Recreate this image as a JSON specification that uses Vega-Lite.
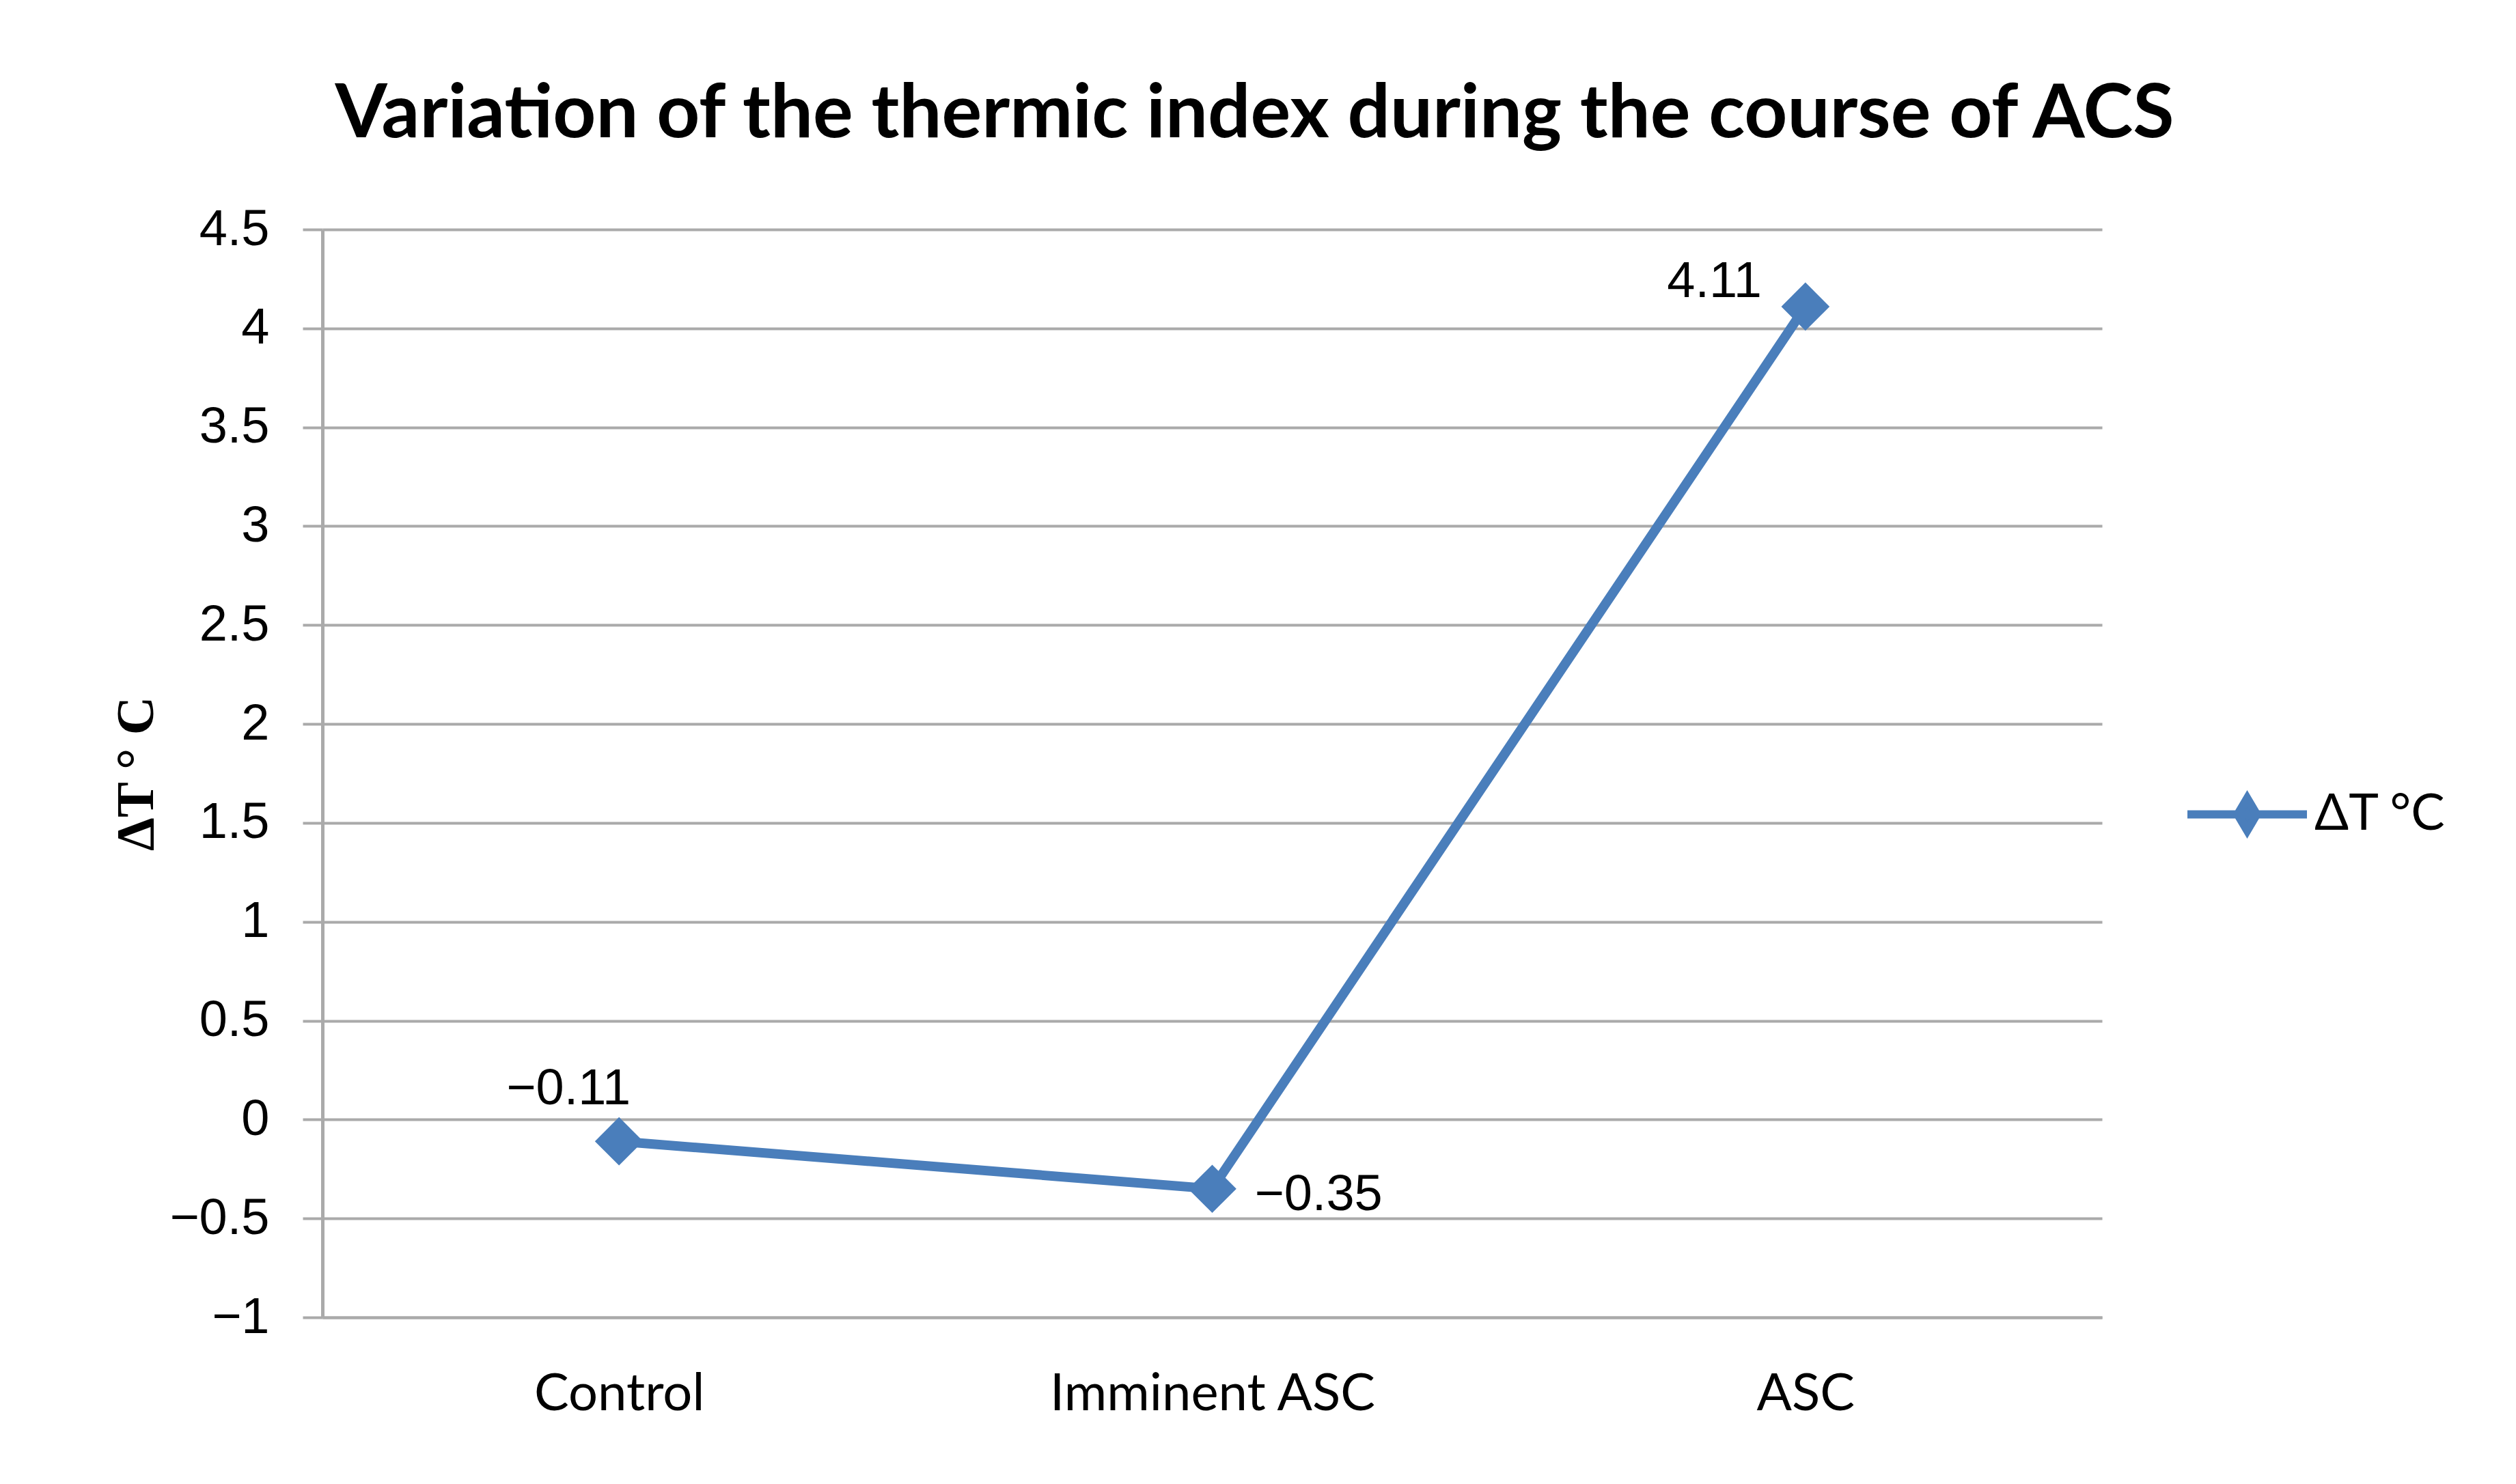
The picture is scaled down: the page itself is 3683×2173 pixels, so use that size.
{
  "$schema": "https://vega.github.io/schema/vega-lite/v6.json",
  "width": 2605,
  "height": 1593,
  "autosize": {"type": "none"},
  "padding": {"left": 472, "top": 336, "right": 606, "bottom": 244},
  "background": "white",
  "config": {"view": {"stroke": null}},
  "title": {
    "text": "Variation of the thermic index during the course of ACS",
    "font": "Lato",
    "fontWeight": "bold",
    "fontSize": 110,
    "color": "black",
    "anchor": "middle",
    "frame": "group",
    "dx": 62,
    "baseline": "alphabetic",
    "offset": -12,
    "limit": 4000
  },
  "data": {
    "values": [
      {"stage": "Control", "dT": -0.11},
      {"stage": "Imminent ASC", "dT": -0.35},
      {"stage": "ASC", "dT": 4.11}
    ]
  },
  "encoding": {
    "x": {
      "field": "stage",
      "type": "nominal",
      "sort": null,
      "scale": {"type": "point", "padding": 0.5},
      "axis": {
        "title": null,
        "labelFont": "Lato",
        "labelFontSize": 76,
        "labelColor": "black",
        "labelAngle": 0,
        "labelPadding": 75,
        "labelLimit": 2000,
        "ticks": false,
        "tickSize": 0,
        "domainColor": "#aaaaaa",
        "domainWidth": 4,
        "grid": false
      }
    },
    "y": {
      "field": "dT",
      "type": "quantitative",
      "scale": {"domain": [-1, 4.5], "nice": false, "zero": false},
      "axis": {
        "title": "ΔT ° C",
        "titleFont": "Liberation Serif",
        "titleFontWeight": "bold",
        "titleFontSize": 78,
        "titleColor": "black",
        "titlePadding": 33,
        "values": [-1, -0.5, 0, 0.5, 1, 1.5, 2, 2.5, 3, 3.5, 4, 4.5],
        "format": "~g",
        "labelFont": "Liberation Sans",
        "labelFontSize": 74,
        "labelColor": "black",
        "labelPadding": 49,
        "tickSize": 29,
        "tickColor": "#aaaaaa",
        "tickWidth": 4,
        "domainColor": "#aaaaaa",
        "domainWidth": 5,
        "grid": true,
        "gridColor": "#aaaaaa",
        "gridWidth": 4
      }
    }
  },
  "layer": [
    {"mark": {"type": "line", "color": "#4A7EBB", "strokeWidth": 14}},
    {
      "mark": {"type": "point", "shape": "diamond", "filled": true, "size": 5000, "opacity": 1},
      "encoding": {
        "color": {
          "datum": "ΔT °C",
          "scale": {"range": ["#4A7EBB"]},
          "legend": {
            "title": null,
            "orient": "none",
            "legendX": 2724,
            "legendY": 763,
            "padding": 0,
            "symbolType": "M-1,0L1,0M0,-0.27L0.16,0L0,0.27L-0.16,0Z",
            "symbolSize": 30625,
            "symbolStrokeWidth": 12,
            "symbolStrokeColor": "#4A7EBB",
            "symbolFillColor": "#4A7EBB",
            "symbolOpacity": 1,
            "labelFont": "Lato",
            "labelFontSize": 74,
            "labelColor": "black",
            "labelOffset": 5,
            "labelLimit": 2000,
            "encode": {
              "symbols": {
                "update": {
                  "fill": {"value": "#4A7EBB"},
                  "stroke": {"value": "#4A7EBB"},
                  "strokeWidth": {"value": 12},
                  "opacity": {"value": 1}
                }
              }
            }
          }
        }
      }
    },
    {
      "transform": [{"filter": "datum.stage == 'Control'"}],
      "mark": {"type": "text", "font": "Liberation Sans", "fontSize": 74, "color": "black", "align": "center", "baseline": "alphabetic", "dx": -74, "dy": -54},
      "encoding": {"text": {"field": "dT", "type": "quantitative", "format": ".2f"}}
    },
    {
      "transform": [{"filter": "datum.stage == 'Imminent ASC'"}],
      "mark": {"type": "text", "font": "Liberation Sans", "fontSize": 74, "color": "black", "align": "left", "baseline": "alphabetic", "dx": 62, "dy": 31},
      "encoding": {"text": {"field": "dT", "type": "quantitative", "format": ".2f"}}
    },
    {
      "transform": [{"filter": "datum.stage == 'ASC'"}],
      "mark": {"type": "text", "font": "Liberation Sans", "fontSize": 74, "color": "black", "align": "right", "baseline": "alphabetic", "dx": -64, "dy": -14},
      "encoding": {"text": {"field": "dT", "type": "quantitative", "format": ".2f"}}
    }
  ]
}
